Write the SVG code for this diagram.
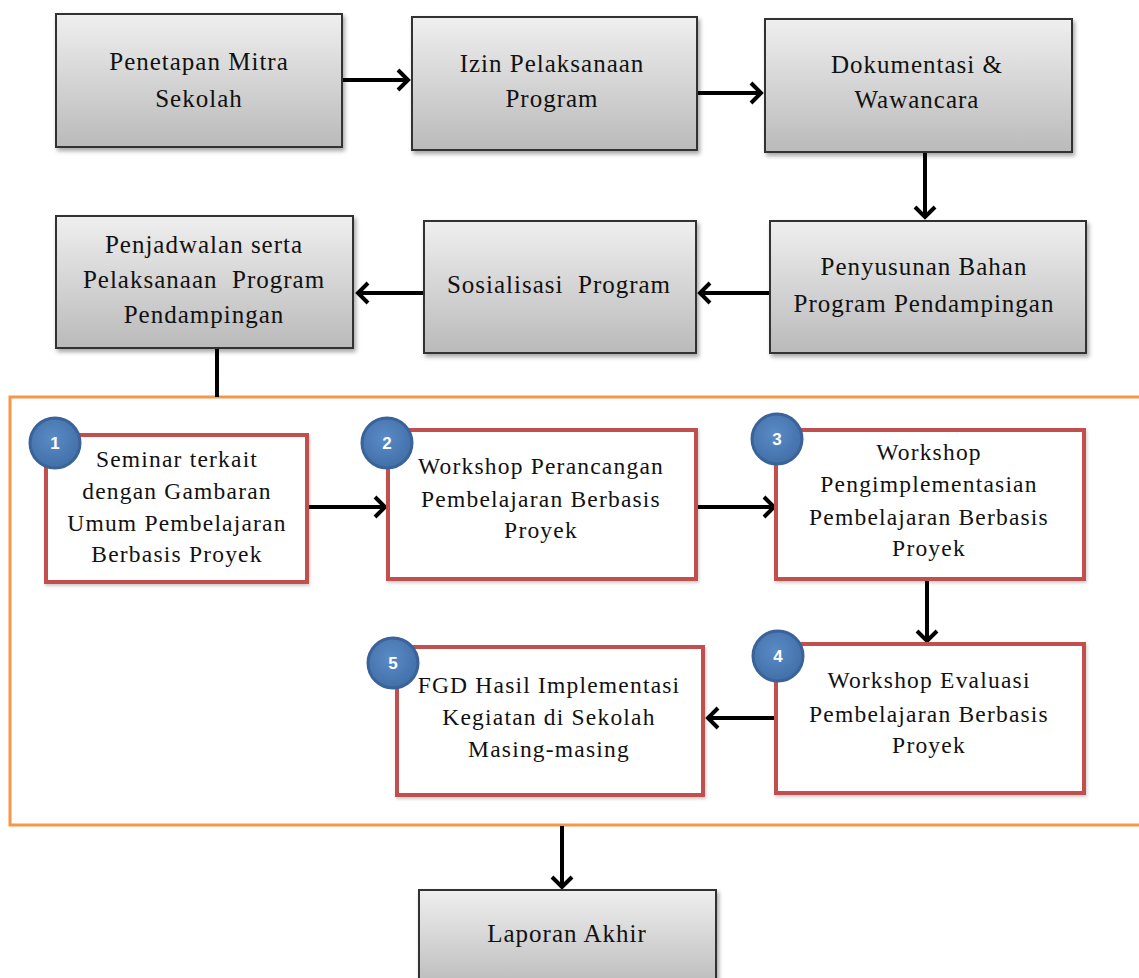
<svg xmlns="http://www.w3.org/2000/svg" width="1139" height="978" viewBox="0 0 1139 978">
<style>
.g{fill:url(#gg);stroke:#333;stroke-width:2;filter:url(#sh)}
.r{fill:#fff;stroke:#c0504d;stroke-width:4;filter:url(#sh2)}
.t{font-family:"Liberation Serif","Times New Roman",serif;font-size:25px;letter-spacing:1px;fill:#111;text-anchor:middle;white-space:pre}
.tr{font-family:"Liberation Serif","Times New Roman",serif;font-size:23.5px;letter-spacing:1.2px;fill:#111;text-anchor:middle;white-space:pre}
.c{fill:url(#cg);stroke:#3a639a;stroke-width:3}
.n{font-family:"Liberation Sans",Arial,sans-serif;font-size:17px;font-weight:bold;fill:#fff;text-anchor:middle}
.a{stroke:#000;stroke-width:4;fill:none;marker-end:url(#ah)}
.l{stroke:#000;stroke-width:4;fill:none}
</style>
<defs>
<linearGradient id="gg" x1="0" y1="0" x2="0" y2="1">
<stop offset="0" stop-color="#efefef"/>
<stop offset="1" stop-color="#bababa"/>
</linearGradient>
<radialGradient id="cg" cx="0.45" cy="0.4" r="0.6">
<stop offset="0" stop-color="#5a8bc6"/>
<stop offset="1" stop-color="#426fa8"/>
</radialGradient>
<filter id="sh" x="-10%" y="-10%" width="120%" height="130%">
<feDropShadow dx="2" dy="3" stdDeviation="2" flood-color="#000" flood-opacity="0.35"/>
</filter>
<filter id="sh2" x="-10%" y="-10%" width="120%" height="130%">
<feDropShadow dx="1" dy="2" stdDeviation="1.5" flood-color="#000" flood-opacity="0.2"/>
</filter>
<marker id="ah" viewBox="-14 -12 16 24" refX="0" refY="0" markerWidth="16" markerHeight="24" markerUnits="userSpaceOnUse" orient="auto">
<path d="M-11,-10 L-1,0 L-11,10" fill="none" stroke="#000" stroke-width="4" stroke-linejoin="miter"/>
</marker>
</defs>
<rect width="1139" height="978" fill="#fff"/>
<rect id="frame" x="10" y="397" width="1140" height="428" fill="none" stroke="#f79646" stroke-width="3"/>
<g id="connectors">
<path class="a" d="M342,80 H409"/>
<path class="a" d="M697,93 H762"/>
<path class="a" d="M925,152 V218"/>
<path class="a" d="M770,293 H699"/>
<path class="a" d="M424,293 H357"/>
<path class="l" d="M217,348 V397"/>
<path class="a" d="M307,507 H386"/>
<path class="a" d="M696,507 H775"/>
<path class="a" d="M927,579 V642"/>
<path class="a" d="M776,718 H707"/>
<path class="a" d="M562,826 V888"/>
</g>
<g id="n-penetapan"><rect class="g" x="56" y="14" width="286" height="133"/>
<text class="t" x="199" y="70">Penetapan Mitra</text><text class="t" x="199" y="107">Sekolah</text></g>
<g id="n-izin"><rect class="g" x="412" y="17" width="285" height="133"/>
<text class="t" x="552" y="72">Izin Pelaksanaan</text><text class="t" x="552" y="107">Program</text></g>
<g id="n-dokumentasi"><rect class="g" x="765" y="19" width="307" height="133"/>
<text class="t" x="917" y="73">Dokumentasi &amp;</text><text class="t" x="917" y="108">Wawancara</text></g>
<g id="n-penyusunan"><rect class="g" x="770" y="221" width="316" height="132"/>
<text class="t" x="924" y="275">Penyusunan Bahan</text><text class="t" x="924" y="312">Program Pendampingan</text></g>
<g id="n-sosialisasi"><rect class="g" x="424" y="221" width="272" height="132"/>
<text class="t" x="559" y="293">Sosialisasi  Program</text></g>
<g id="n-penjadwalan"><rect class="g" x="56" y="216" width="297" height="132"/>
<text class="t" x="204" y="253">Penjadwalan serta</text><text class="t" x="204" y="288">Pelaksanaan  Program</text><text class="t" x="204" y="323">Pendampingan</text></g>
<g id="n-laporan"><rect class="g" x="419" y="890" width="297" height="100"/>
<text class="t" x="567" y="942">Laporan Akhir</text></g>
<g id="n-1"><rect class="r" x="46" y="435" width="261" height="147"/>
<text class="tr" x="177" y="467">Seminar terkait</text><text class="tr" x="177" y="499">dengan Gambaran</text><text class="tr" x="177" y="531">Umum Pembelajaran</text><text class="tr" x="177" y="562">Berbasis Proyek</text>
<circle class="c" cx="55" cy="443" r="25"/><text class="n" x="55" y="449">1</text></g>
<g id="n-2"><rect class="r" x="388" y="430" width="308" height="149"/>
<text class="tr" x="541" y="474">Workshop Perancangan</text><text class="tr" x="541" y="507">Pembelajaran Berbasis</text><text class="tr" x="541" y="538">Proyek</text>
<circle class="c" cx="387" cy="443" r="25"/><text class="n" x="387" y="449">2</text></g>
<g id="n-3"><rect class="r" x="776" y="430" width="308" height="149"/>
<text class="tr" x="929" y="460">Workshop</text><text class="tr" x="929" y="492">Pengimplementasian</text><text class="tr" x="929" y="525">Pembelajaran Berbasis</text><text class="tr" x="929" y="556">Proyek</text>
<circle class="c" cx="777" cy="439" r="25"/><text class="n" x="777" y="445">3</text></g>
<g id="n-4"><rect class="r" x="776" y="644" width="308" height="149"/>
<text class="tr" x="929" y="688">Workshop Evaluasi</text><text class="tr" x="929" y="722">Pembelajaran Berbasis</text><text class="tr" x="929" y="753">Proyek</text>
<circle class="c" cx="778" cy="656" r="25"/><text class="n" x="778" y="662">4</text></g>
<g id="n-5"><rect class="r" x="397" y="647" width="306" height="148"/>
<text class="tr" x="549" y="693">FGD Hasil Implementasi</text><text class="tr" x="549" y="725">Kegiatan di Sekolah</text><text class="tr" x="549" y="757">Masing-masing</text>
<circle class="c" cx="393" cy="663" r="25"/><text class="n" x="393" y="669">5</text></g>
</svg>
